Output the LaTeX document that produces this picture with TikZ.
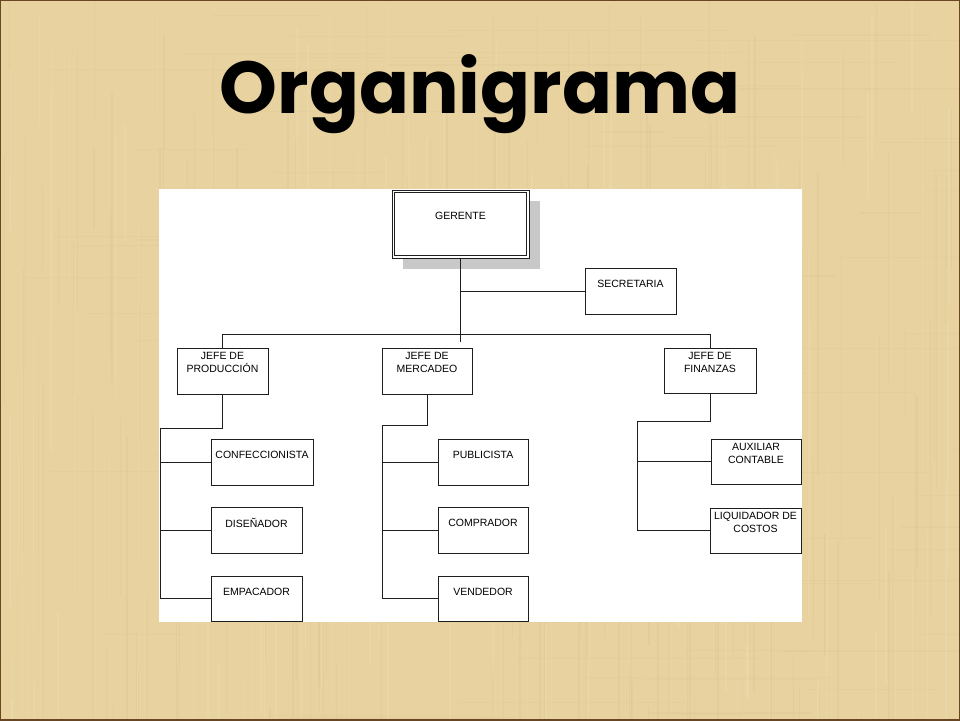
\documentclass[tikz,border=0pt]{standalone}
\usepackage{fontspec}
\setmainfont{Liberation Sans}
\newfontfamily\titlefont{Poppins}
\definecolor{parch}{HTML}{E7D2A0}
\definecolor{parchdark}{HTML}{C4A86C}
\definecolor{parchlight}{HTML}{F3E6C2}
\definecolor{shadowgrey}{HTML}{C8C8C8}
\definecolor{linec}{HTML}{1E1E1E}
\tikzset{
  orgbox/.style={draw=linec, line width=0.9pt, fill=white, inner sep=0pt,
    minimum width=91pt, minimum height=46pt},
  lbl/.style={inner sep=0pt, align=center, font=\fontsize{10.5}{13}\selectfont, text=black},
  conn/.style={draw=linec, line width=0.8pt},
}
\begin{document}
\begin{tikzpicture}[x=1pt,y=-1pt]
\useasboundingbox (0,0) rectangle (960,720);
% background
\fill[parch] (0,0) rectangle (960,720);
\begin{scope}
\clip (0,0) rectangle (960,720);
\pgfmathsetseed{11}
\foreach \i in {1,...,160}{
  \pgfmathsetmacro\xx{rnd*960}
  \pgfmathsetmacro\ya{rnd*720}
  \pgfmathsetmacro\yb{\ya+80+rnd*300}
  \pgfmathsetmacro\ww{0.4+rnd*1.6}
  \draw[parchdark, opacity=0.10, line width=\ww pt] (\xx,\ya) -- (\xx,\yb);
}
\foreach \i in {1,...,120}{
  \pgfmathsetmacro\xx{rnd*960}
  \pgfmathsetmacro\ya{rnd*720}
  \pgfmathsetmacro\yb{\ya+80+rnd*300}
  \pgfmathsetmacro\ww{0.5+rnd*1.8}
  \draw[parchlight, opacity=0.22, line width=\ww pt] (\xx,\ya) -- (\xx,\yb);
}
\foreach \i in {1,...,100}{
  \pgfmathsetmacro\yy{rnd*720}
  \pgfmathsetmacro\xa{rnd*960}
  \pgfmathsetmacro\xb{\xa+60+rnd*250}
  \pgfmathsetmacro\ww{0.4+rnd*1.4}
  \draw[parchdark, opacity=0.08, line width=\ww pt] (\xa,\yy) -- (\xb,\yy);
}
\draw[brown!55!black, line width=1.5pt] (0,0) rectangle (960,720);
\end{scope}

% title
\node[anchor=base, inner sep=0pt] (title) at (480,113)
  {\resizebox{520pt}{!}{\titlefont\bfseries Organigrama}};

% white panel
\fill[white] (159,189) rectangle (802,622);

% shadow of GERENTE
\fill[shadowgrey] (403,201) rectangle (540,269);

% boxes
\node[orgbox, minimum width=137pt, minimum height=68pt] (ger) at (460.5,224) {};
\draw[linec, line width=0.9pt] ([xshift=3pt,yshift=-3pt]ger.north west)
  rectangle ([xshift=-3pt,yshift=3pt]ger.south east);
\node[orgbox] (sec)  at (630.5,291.5) {};
\node[orgbox] (prod) at (222.5,371) {};
\node[orgbox, minimum width=90pt] (merc) at (427,371) {};
\node[orgbox, minimum width=92pt, minimum height=45pt] (fin) at (710,370.5) {};
\node[orgbox, minimum width=102pt] (conf) at (262,462) {};
\node[orgbox] (dis)  at (256.5,530) {};
\node[orgbox, minimum height=45pt] (emp)  at (256.5,598.5) {};
\node[orgbox, minimum width=90pt] (pub)  at (483,462) {};
\node[orgbox, minimum width=90pt] (comp) at (483,530) {};
\node[orgbox, minimum width=90pt, minimum height=45pt] (vend) at (483,598.5) {};
\node[orgbox, minimum width=90pt, minimum height=45pt] (aux)  at (756,461.5) {};
\node[orgbox, minimum height=45pt] (liq)  at (755.5,530.5) {};

% labels
\node[lbl] (t-ger)  at ([yshift=-26pt]ger.north)  {GERENTE};
\node[lbl] (t-sec)  at ([yshift=-16pt]sec.north)  {SECRETARIA};
\node[lbl] (t-prod) at ([yshift=-15pt]prod.north) {JEFE DE\\PRODUCCIÓN};
\node[lbl] (t-merc) at ([yshift=-15pt]merc.north) {JEFE DE\\MERCADEO};
\node[lbl] (t-fin)  at ([yshift=-15pt]fin.north)  {JEFE DE\\FINANZAS};
\node[lbl] (t-conf) at ([yshift=-16pt]conf.north) {CONFECCIONISTA};
\node[lbl] (t-dis)  at ([yshift=-16pt]dis.north)  {DISEÑADOR};
\node[lbl] (t-emp)  at ([yshift=-16pt]emp.north)  {EMPACADOR};
\node[lbl] (t-pub)  at ([yshift=-16pt]pub.north)  {PUBLICISTA};
\node[lbl] (t-comp) at ([yshift=-16pt]comp.north) {COMPRADOR};
\node[lbl] (t-vend) at ([yshift=-16pt]vend.north) {VENDEDOR};
\node[lbl] (t-aux)  at ([yshift=-15pt]aux.north)  {AUXILIAR\\CONTABLE};
\node[lbl] (t-liq)  at ([yshift=-15pt]liq.north)  {LIQUIDADOR DE\\COSTOS};

% coordinates
\coordinate (gend) at (460.5,342);
\coordinate (pbus) at (160,428);
\coordinate (mbus) at (382,425);
\coordinate (fbus) at (637,421);

% connectors
\draw[conn] (ger.south) -- (gend);
\draw[conn] (ger.south |- sec.west) -- (sec.west);
\draw[conn] (prod.north) -- ++(0,-13) -| (fin.north);

\draw[conn] (prod.south) |- (pbus) |- (emp.west);
\draw[conn] (pbus |- conf.west) -- (conf.west);
\draw[conn] (pbus |- dis.west) -- (dis.west);

\draw[conn] (merc.south) |- (mbus) |- (vend.west);
\draw[conn] (mbus |- pub.west) -- (pub.west);
\draw[conn] (mbus |- comp.west) -- (comp.west);

\draw[conn] (fin.south) |- (fbus) |- (liq.west);
\draw[conn] (fbus |- aux.west) -- (aux.west);
\end{tikzpicture}
\end{document}
